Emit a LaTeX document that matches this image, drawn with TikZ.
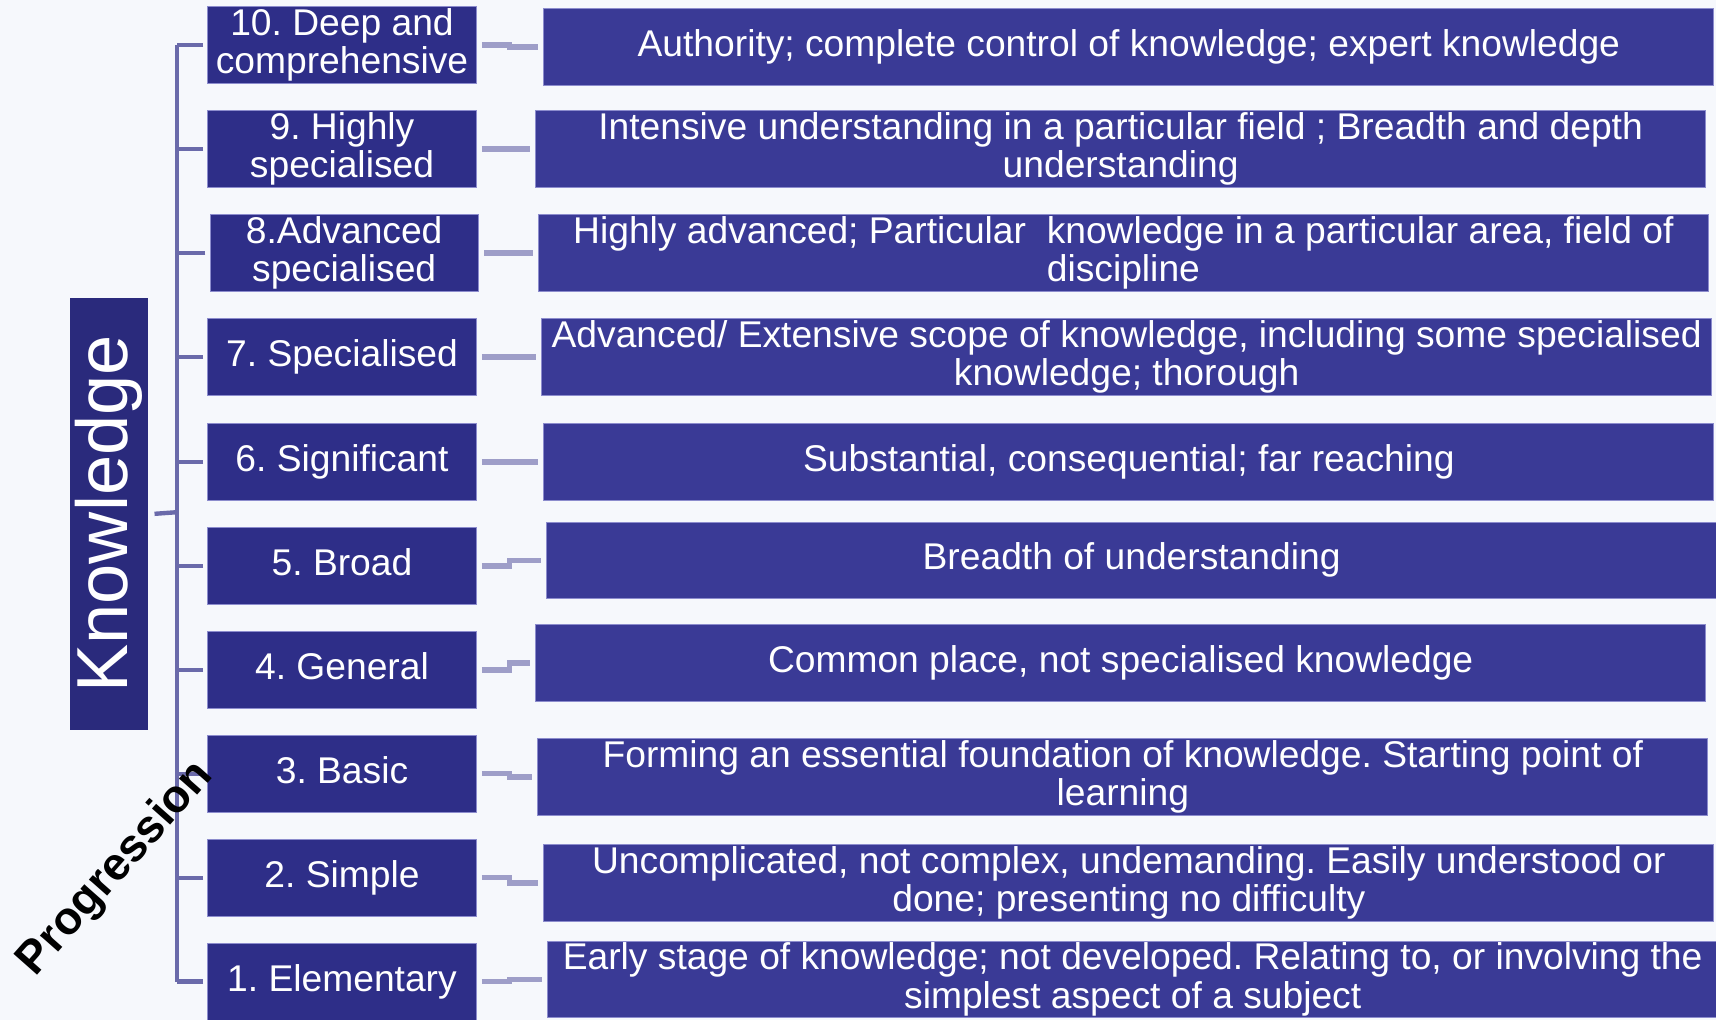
\documentclass[tikz,border=0pt]{standalone}
\usepackage{fontspec}
\setmainfont{Liberation Sans}
\definecolor{pagetint}{RGB}{246,248,252}
\definecolor{levelfill}{RGB}{46,46,136}
\definecolor{descfill}{RGB}{58,58,150}
\definecolor{headfill}{RGB}{42,42,124}
\definecolor{boxedge}{RGB}{140,140,205}
\definecolor{spinecol}{RGB}{106,106,170}
\definecolor{linkcol}{RGB}{158,158,200}
% box font, with fixed line spacing
\newcommand\boxfont{\fontsize{34}{35}\selectfont\frenchspacing\lineskiplimit=-100pt\relax}
% line box with the ascent and descent of the sans face at 34pt
\newcommand\topstrut{\rule[-7pt]{0pt}{31pt}}
\newcommand\botstrut{\rule[-7pt]{0pt}{7pt}}
\begin{document}
\begin{tikzpicture}[x=1pt,y=-1pt,
  boxtext/.style={text=white,align=center,inner sep=0pt,font=\boxfont,
    execute at begin node=\topstrut, execute at end node=\botstrut},
  levelbox/.style={boxtext,fill=levelfill,draw=boxedge,line width=0.8pt,minimum width=245pt,minimum height=70pt},
  descbox/.style={boxtext,fill=descfill,draw=boxedge,line width=0.8pt,minimum width=1069pt,minimum height=70pt},
  spine/.style={draw=spinecol,line width=4pt},
  link/.style={draw=linkcol,line width=5pt,shorten <=5pt,shorten >=5pt}]
\useasboundingbox (0,0) rectangle (1568,932);
\fill[pagetint] (0,0) rectangle (1568,932);

% heading box
\node[text=white,inner sep=0pt,fill=headfill,rotate=90,minimum width=395pt,minimum height=71pt,
      font=\fontsize{66}{66}\selectfont] (K) at (99.5,469.5) {Knowledge};

% level boxes
\node[levelbox] (L10) at (312.5,41)  {10. Deep and\\comprehensive};
\node[levelbox] (L9)  at (312.5,136) {9. Highly\\specialised};
\node[levelbox] (L8)  at (314.5,231) {8.Advanced\\specialised};
\node[levelbox] (L7)  at (312.5,326) {7. Specialised};
\node[levelbox] (L6)  at (312.5,422) {6. Significant};
\node[levelbox] (L5)  at (312.5,517) {5. Broad};
\node[levelbox] (L4)  at (312.5,612) {4. General};
\node[levelbox] (L3)  at (312.5,707) {3. Basic};
\node[levelbox] (L2)  at (312.5,802) {2. Simple};
\node[levelbox] (L1)  at (312.5,897) {1. Elementary};

% description boxes
\node[descbox] (D10) at (1031.5,43) {Authority; complete control of knowledge; expert knowledge};
\node[descbox] (D9)  at (1024,136)  {Intensive understanding in a particular field ; Breadth and depth\\understanding};
\node[descbox] (D8)  at (1026.5,231) {Highly advanced; Particular\ \ knowledge in a particular area, field of\\discipline};
\node[descbox] (D7)  at (1029.5,326) {Advanced/ Extensive scope of knowledge, including some specialised\\knowledge; thorough};
\node[descbox] (D6)  at (1031.5,422) {Substantial, consequential; far reaching};
\node[descbox] (D5)  at (1034,512)  {Breadth of understanding};
\node[descbox] (D4)  at (1024,606)  {Common place, not specialised knowledge};
\node[descbox] (D3)  at (1026,710)  {Forming an essential foundation of knowledge. Starting point of\\learning};
\node[descbox] (D2)  at (1031.5,807) {Uncomplicated, not complex, undemanding. Easily understood or\\done; presenting no difficulty};
\node[descbox] (D1)  at (1035,895)  {Early stage of knowledge; not developed. Relating to, or involving the\\simplest aspect of a subject};

% bracket joining the heading to the levels
\coordinate (spTop) at (162,41);
\coordinate (spBot) at (162,897);
\coordinate (spMid) at (162,468);
\draw[spine] (spTop) -- (spBot);
\draw[spine] (K.south) ++(6,0) -- (spMid);
\foreach \i in {1,...,10}
  \draw[spine] (L\i.west) ++(-4,0) -- (L\i.west -| spTop);

% links from each level to its description
\foreach \i in {1,...,10}
  \draw[link] (L\i.east) -- ++(30,0) |- (D\i.west);

% axis label
\node[font=\bfseries\fontsize{42}{42}\selectfont,rotate=48.5,inner sep=0pt] (P) at (106,794) {Progression};
\end{tikzpicture}
\end{document}
